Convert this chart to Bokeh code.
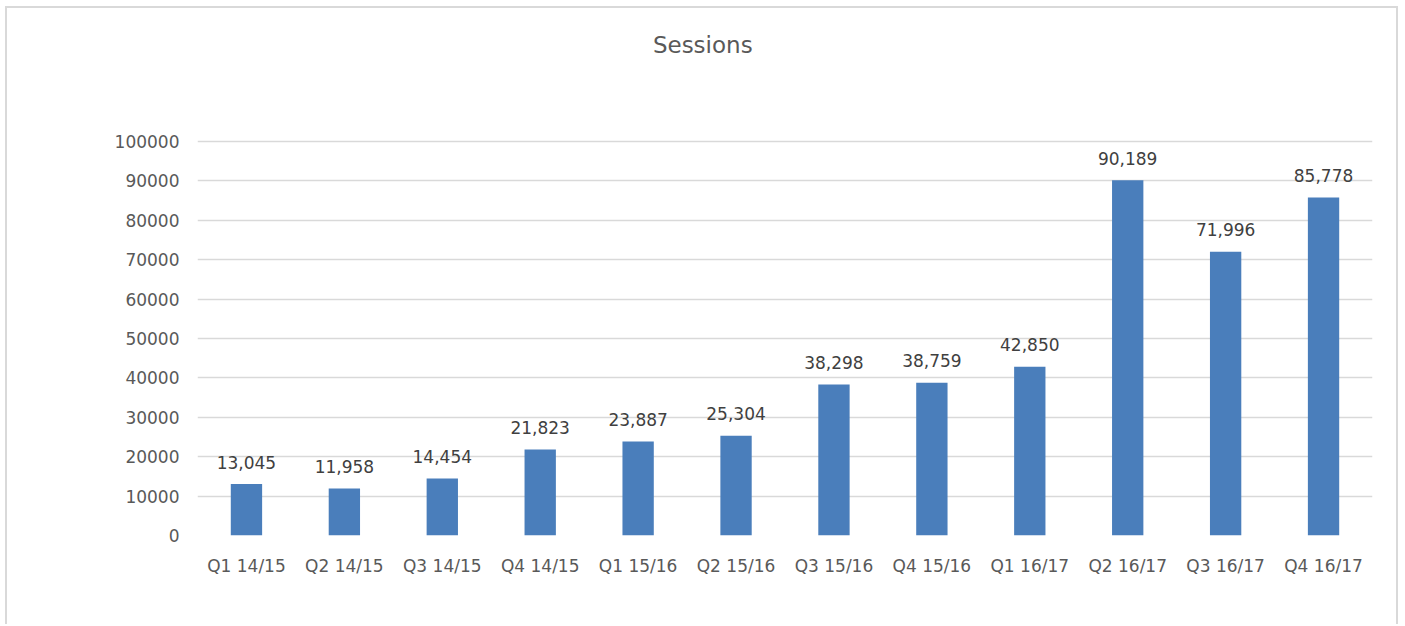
from bokeh.plotting import figure
from bokeh.models import ColumnDataSource, LabelSet, Label, FixedTicker, NumeralTickFormatter
from bokeh.core.properties import value
from bokeh.embed import file_html
from bokeh.resources import INLINE

quarters = ["Q1 14/15", "Q2 14/15", "Q3 14/15", "Q4 14/15",
            "Q1 15/16", "Q2 15/16", "Q3 15/16", "Q4 15/16",
            "Q1 16/17", "Q2 16/17", "Q3 16/17", "Q4 16/17"]
sessions = [13045, 11958, 14454, 21823, 23887, 25304,
            38298, 38759, 42850, 90189, 71996, 85778]
y_ticks = [0, 10000, 20000, 30000, 40000, 50000, 60000, 70000, 80000, 90000, 100000]
title_text = "Sessions"

labels = [f"{v:,}" for v in sessions]
src = ColumnDataSource(dict(q=quarters, v=sessions, lab=labels))

FONT = "DejaVu Sans"
W, H = 1393, 618
p = figure(x_range=quarters, y_range=(0, 130700), width=W, height=H,
           output_backend="svg", toolbar_location=None,
           min_border_left=190, min_border_right=28, min_border_top=12,
           min_border_bottom=91)
p.styles = {"margin-left": "5px", "margin-top": "6px",
            "border-top": "2px solid #d9d9d9", "border-left": "2px solid #d9d9d9",
            "border-right": "2px solid #d9d9d9"}
p.outline_line_color = None

p.vbar(x="q", top="v", width=0.32, source=src, color="#4a7ebb", line_color=None)

p.add_layout(LabelSet(x="q", y="v", text="lab", source=src, text_align="center",
                      text_baseline="middle", y_offset=22, text_font=value(FONT),
                      text_font_size=value("17px"), text_color="#404040"))

# chart title, centred on the whole chart
p.add_layout(Label(x=5.16, y=124400, text=title_text, text_align="center",
                   text_baseline="middle", text_font=FONT, text_font_size="23px",
                   text_color="#595959"))

p.yaxis.ticker = FixedTicker(ticks=y_ticks)
p.yaxis.formatter = NumeralTickFormatter(format="0")
for ax in (p.xaxis, p.yaxis):
    ax.axis_line_color = None
    ax.major_tick_line_color = None
    ax.minor_tick_line_color = None
    ax.major_tick_out = 0
    ax.major_tick_in = 0
    ax.major_label_text_font = FONT
    ax.major_label_text_font_size = "17px"
    ax.major_label_text_color = "#595959"
p.yaxis.major_label_standoff = 18
p.xaxis.major_label_standoff = 20

p.xgrid.grid_line_color = None
p.ygrid.grid_line_color = "#d9d9d9"
p.ygrid.grid_line_width = 1.5
p.ygrid.ticker = FixedTicker(ticks=y_ticks)
p.x_range.range_padding = 0

open("out.html", "w").write(file_html(p, INLINE))
